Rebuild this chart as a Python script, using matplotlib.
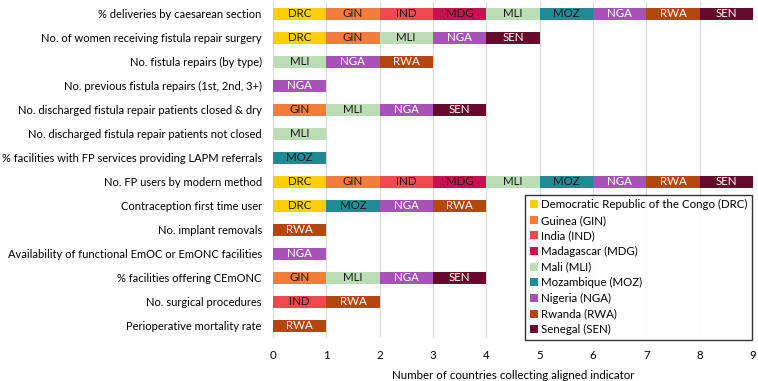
import matplotlib
matplotlib.use('Agg')
import matplotlib.pyplot as plt
from matplotlib.patches import Patch

# indicators, top to bottom
indicators = [
    '% deliveries by caesarean section',
    'No. of women receiving fistula repair surgery',
    'No. fistula repairs (by type)',
    'No. previous fistula repairs (1st, 2nd, 3+)',
    'No. discharged fistula repair patients closed & dry',
    'No. discharged fistula repair patients not closed',
    '% facilities with FP services providing LAPM referrals',
    'No. FP users by modern method',
    'Contraception first time user',
    'No. implant removals',
    'Availability of functional EmOC or EmONC facilities',
    '% facilities offering CEmONC',
    'No. surgical procedures',
    'Perioperative mortality rate',
]

# countries collecting each indicator, in stacking order
countries_per_indicator = [
    ['DRC', 'GIN', 'IND', 'MDG', 'MLI', 'MOZ', 'NGA', 'RWA', 'SEN'],
    ['DRC', 'GIN', 'MLI', 'NGA', 'SEN'],
    ['MLI', 'NGA', 'RWA'],
    ['NGA'],
    ['GIN', 'MLI', 'NGA', 'SEN'],
    ['MLI'],
    ['MOZ'],
    ['DRC', 'GIN', 'IND', 'MDG', 'MLI', 'MOZ', 'NGA', 'RWA', 'SEN'],
    ['DRC', 'MOZ', 'NGA', 'RWA'],
    ['RWA'],
    ['NGA'],
    ['GIN', 'MLI', 'NGA', 'SEN'],
    ['IND', 'RWA'],
    ['RWA'],
]

codes = ['DRC', 'GIN', 'IND', 'MDG', 'MLI', 'MOZ', 'NGA', 'RWA', 'SEN']
names = ['Democratic Republic of the Congo', 'Guinea', 'India', 'Madagascar',
         'Mali', 'Mozambique', 'Nigeria', 'Rwanda', 'Senegal']

colors = {
    'DRC': '#FFCF06', 'GIN': '#F37E3B', 'IND': '#EE4A4E', 'MDG': '#C9114F',
    'MLI': '#BADDB4', 'MOZ': '#1F8C95', 'NGA': '#A553B6', 'RWA': '#B4460E',
    'SEN': '#680A2B',
}
light_text = {'NGA', 'RWA', 'SEN'}

plt.rcParams['font.family'] = ['Lato', 'DejaVu Sans']

fig = plt.figure(figsize=(7.58, 3.81), dpi=100)
ax = fig.add_axes([0.360, 0.113, 0.6334, 0.882])

for i, row in enumerate(countries_per_indicator):
    for j, c in enumerate(row):
        ax.barh(i, 1, left=j, height=0.52, color=colors[c], zorder=3)
        ax.text(j + 0.5, i, c, ha='center', va='center', fontsize=8.3,
                color='white' if c in light_text else '#1a1a1a', zorder=4)

ax.set_ylim(13.5, -0.5)
ax.set_xlim(0, 9)
ax.set_yticks(range(len(indicators)))
ax.set_yticklabels(indicators, fontsize=8.0)
ax.set_xticks(range(10))
ax.tick_params(axis='x', labelsize=8.3, length=0, pad=9)
ax.tick_params(axis='y', length=0, pad=8)
ax.set_xlabel('Number of countries collecting aligned indicator', fontsize=8.3, labelpad=6)
ax.grid(axis='x', color='#d9d9d9', linewidth=0.8, zorder=0)
for s in ax.spines.values():
    s.set_visible(False)

handles = [Patch(facecolor=colors[c], label=f'{n} ({c})') for c, n in zip(codes, names)]
leg = ax.legend(handles=handles, loc='lower right', bbox_to_anchor=(0.998, -0.006),
                fontsize=8.3, frameon=True, fancybox=False, edgecolor='black',
                handlelength=0.7, handleheight=0.7, handletextpad=0.3,
                labelspacing=0.4, borderpad=0.4, borderaxespad=0)
leg.get_frame().set_linewidth(1.0)
leg.set_zorder(5)

fig.savefig('out.png', dpi=100, facecolor='white')
